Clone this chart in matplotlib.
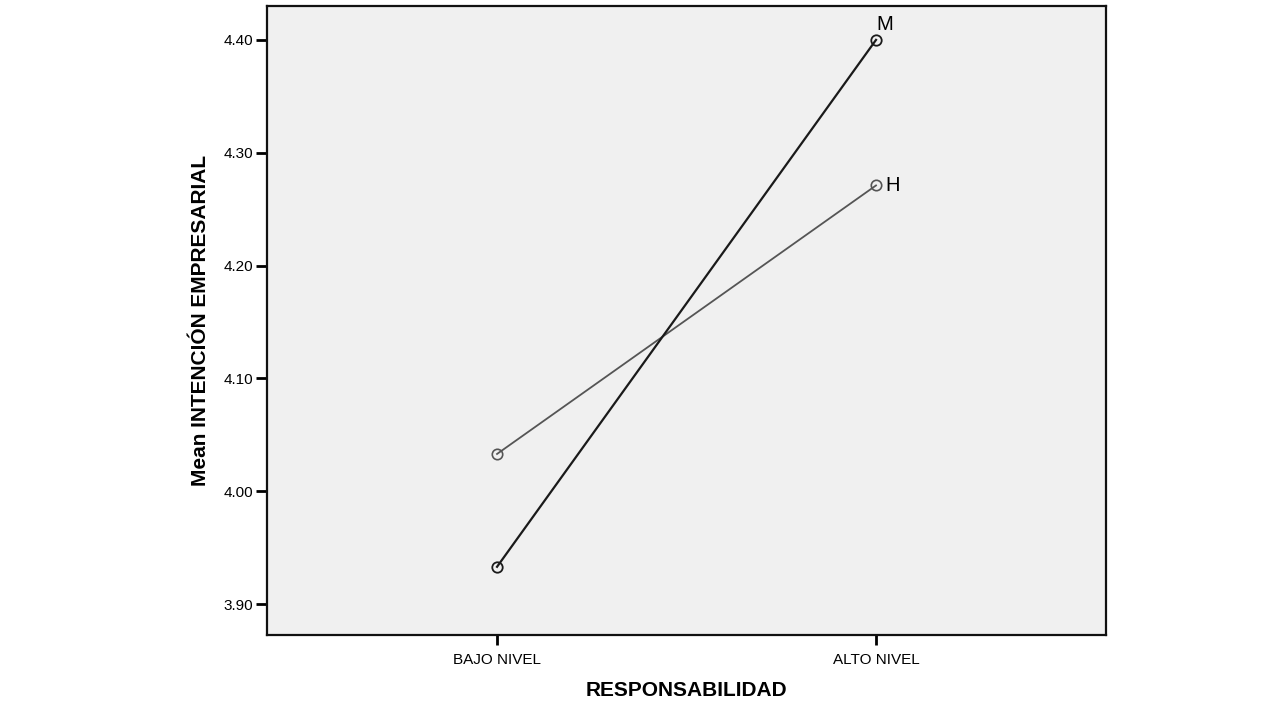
import matplotlib.pyplot as plt

plt.rcParams['font.family'] = ['Liberation Sans', 'DejaVu Sans']

niveles = ["BAJO NIVEL", "ALTO NIVEL"]
grupos = ["M", "H"]
medias_m = [3.933, 4.400]
medias_h = [4.033, 4.271]
yticks = [3.90, 4.00, 4.10, 4.20, 4.30, 4.40]

fig = plt.figure(figsize=(12.8, 7.2), dpi=100)
ax = fig.add_axes([0.2086, 0.118, 0.6555, 0.8736])
ax.set_facecolor('#f0f0f0')

x = list(range(len(niveles)))
ax.plot(x, medias_m, color='#1a1a1a', lw=1.6, marker='o', ms=7.5,
        mfc='none', mec='#1a1a1a', mew=1.3, zorder=3)
ax.plot(x, medias_h, color='#555555', lw=1.3, marker='o', ms=7.5,
        mfc='none', mec='#555555', mew=1.2, zorder=2)

ax.annotate(grupos[0], (x[1], medias_m[1]), xytext=(0, 4),
            textcoords='offset points', ha='left', va='bottom', fontsize=14.5)
ax.annotate(grupos[1], (x[1], medias_h[1]), xytext=(7, 0),
            textcoords='offset points', ha='left', va='center', fontsize=14.5)

ax.set_xlim(-0.607, 1.607)
ax.set_ylim(3.8725, 4.430)
ax.set_xticks(x)
ax.set_xticklabels(niveles, fontsize=11)
ax.set_yticks(yticks)
ax.set_yticklabels([f"{v:.2f}" for v in yticks], fontsize=11)
ax.tick_params(axis='y', length=8, width=2, direction='out', pad=2)
ax.tick_params(axis='x', length=7, width=2, direction='out', pad=6)
for s in ax.spines.values():
    s.set_linewidth(1.6)
    s.set_color('#111111')

ax.set_xlabel("RESPONSABILIDAD", fontsize=15, fontweight='bold', labelpad=10)
ax.set_ylabel("Mean INTENCIÓN EMPRESARIAL", fontsize=15, fontweight='bold', labelpad=10)

fig.savefig("out.png", dpi=100)
